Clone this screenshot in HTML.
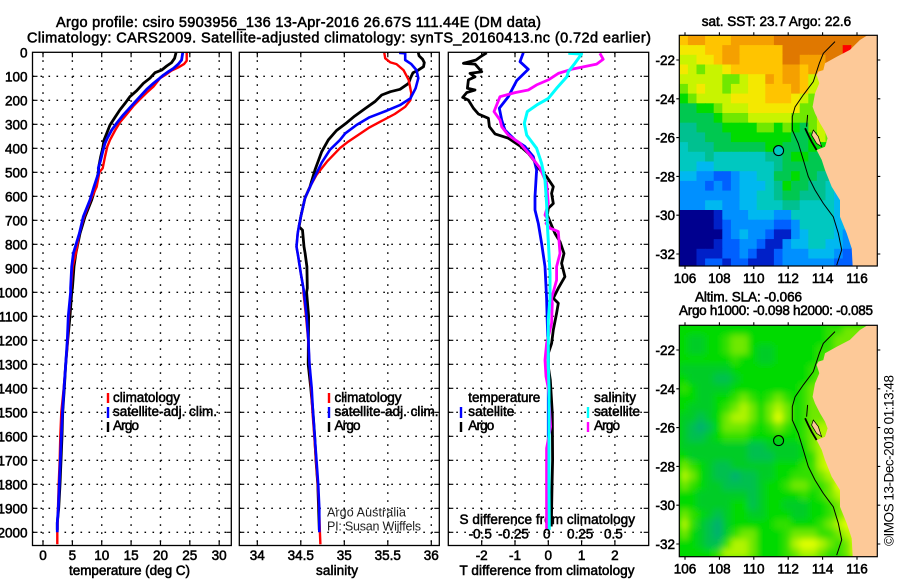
<!DOCTYPE html>
<html lang="en">
<head>
<meta charset="utf-8">
<title>Argo profile csiro 5903956_136</title>
<style>
html,body{margin:0;padding:0;background:#fff;width:900px;height:580px;overflow:hidden}
svg{display:block}
text{font-family:"Liberation Sans",sans-serif;fill:#000;stroke:#000;stroke-width:.55px;font-size:13.5px}
text.thin{stroke:none;font-size:12.5px;fill:#222}
text.title{font-size:14.5px}
</style>
</head>
<body>
<svg id="chart" width="900" height="580" viewBox="0 0 900 580" xmlns="http://www.w3.org/2000/svg">
<defs>
<clipPath id="clip-sst"><rect x="679.3" y="35.3" width="198" height="230.7"/></clipPath>
<clipPath id="clip-sla"><rect x="679.3" y="325.3" width="198" height="231.4"/></clipPath>
<filter id="soft" x="-5%" y="-5%" width="110%" height="110%"><feGaussianBlur stdDeviation="3.2"/></filter>
</defs>
<rect width="900" height="580" fill="#fff" style="stroke:none"/>
<text class="title" x="56" y="27" textLength="485" lengthAdjust="spacing">Argo profile: csiro 5903956_136 13-Apr-2016 26.67S 111.44E (DM data)</text>
<text class="title" x="27" y="42.5" textLength="624" lengthAdjust="spacing">Climatology: CARS2009. Satellite-adjusted climatology: synTS_20160413.nc (0.72d earlier)</text>

<text x="69" y="575" textLength="121" lengthAdjust="spacing">temperature (deg C)</text>
<text x="316" y="575" textLength="42" lengthAdjust="spacing">salinity</text>
<text x="459.5" y="575" textLength="175" lengthAdjust="spacing">T difference from climatology</text>
<text x="459.5" y="524" textLength="175.5" lengthAdjust="spacing">S difference from climatology</text>

<text x="113" y="402" textLength="67" lengthAdjust="spacing">climatology</text>
<text x="113" y="416" textLength="104" lengthAdjust="spacing">satellite-adj. clim.</text>
<text x="113" y="430" textLength="26" lengthAdjust="spacing">Argo</text>
<text x="334.5" y="402" textLength="67" lengthAdjust="spacing">climatology</text>
<text x="334.5" y="416" textLength="104" lengthAdjust="spacing">satellite-adj. clim.</text>
<text x="334.5" y="430" textLength="26" lengthAdjust="spacing">Argo</text>
<text class="thin" x="327" y="516.5" textLength="79" lengthAdjust="spacing">Argo Australia</text>
<text class="thin" x="327" y="530.5" textLength="94" lengthAdjust="spacing">PI: Susan Wijffels</text>

<text x="468.3" y="402" textLength="72" lengthAdjust="spacing">temperature</text>
<text x="468.3" y="416" textLength="46" lengthAdjust="spacing">satellite</text>
<text x="468.3" y="430" textLength="26" lengthAdjust="spacing">Argo</text>
<text x="594" y="402" textLength="42" lengthAdjust="spacing">salinity</text>
<text x="594" y="416" textLength="46" lengthAdjust="spacing">satellite</text>
<text x="594" y="430" textLength="26" lengthAdjust="spacing">Argo</text>

<text x="701.7" y="26" textLength="149.5" lengthAdjust="spacing">sat. SST: 23.7 Argo: 22.6</text>
<text x="695" y="301.3" textLength="107" lengthAdjust="spacing">Altim. SLA: -0.066</text>
<text x="679" y="315" textLength="194" lengthAdjust="spacing">Argo h1000: -0.098 h2000: -0.085</text>
<text class="thin" transform="translate(893.5,546) rotate(-90)" style="font-size:13.5px;fill:#000" textLength="171" lengthAdjust="spacing">©IMOS 13-Dec-2018 01:13:48</text>
</svg>
<script>
// ---------- axis tick data ----------
const depthTicks = [0,100,200,300,400,500,600,700,800,900,1000,1100,1200,1300,1400,1500,1600,1700,1800,1900,2000];
const tempTicks = [0,5,10,15,20,25,30];
const salTicks = ['34','34.5','35','35.5','36'];
const tDiffTicks = [-2,-1,0,1,2];
const sDiffTicks = ['-0.5','-0.25','0','0.25','0.5'];
const lonTicks = [106,108,110,112,114,116];
const latTicks = [-22,-24,-26,-28,-30,-32];

// ---------- temperature profiles ----------
const tempClimDepth = [2,35,49,63,76,95,108,143,168,196,224,258,292,326,365,393,435,483,500,560,615,685,754,837,893,983,1100,1200,1300,1400,1500,1600,1700,1800,1900,2000,2050];
const tempClimValue = [24.46,24.46,24.0,23.04,21.9,20.77,19.93,18.79,17.65,16.5,15.38,14.25,13.1,12.26,11.4,10.95,10.56,10.16,9.6,9.14,8.1,7.0,6.2,5.6,5.05,4.76,4.4,4.2,3.86,3.52,3.12,2.95,2.84,2.67,2.55,2.44,2.44];
const tempSatDepth = [2,32,49,67,81,95,113,129,154,192,231,261,296,324,358,379,414,449,483,500,560,615,685,754,837,893,983,1000,1100,1200,1300,1400,1500,1600,1700,1800,1900,1960,2000];
const tempSatValue = [23.78,23.6,23.04,22.2,21.34,20.5,19.64,18.79,17.65,16.23,14.8,13.68,12.54,11.69,10.95,10.56,10.16,9.82,9.42,9.48,8.68,8.0,6.86,6.2,5.17,4.88,4.7,4.7,4.3,4.14,3.86,3.57,3.3,3.12,2.95,2.78,2.6,2.44,2.44];
const tempArgoDepth = [2,25,43,57,74,85,108,129,160,185,213,240,271,303,338,365,400,435,476,500,560,615,685,754,837,893,983,1000,1100,1200,1300,1400,1500,1600,1700,1800,1900,1960,1990];
const tempArgoValue = [22.65,22.4,21.9,21.06,20.2,19.07,18.2,17.1,15.95,14.8,13.96,13.1,12.26,11.4,10.84,10.4,10.16,9.82,9.5,9.42,8.97,8.3,7.15,6.3,5.6,5.28,5.0,4.88,4.6,4.2,3.86,3.63,3.35,3.23,3.06,2.9,2.67,2.44,2.44];

// ---------- salinity profiles ----------
const salClimDepth = [2,25,42,49,74,115,171,199,227,257,282,313,349,372,399,456,511,560,607,685,720,754,810,851,921,983,1000,1100,1200,1300,1400,1500,1600,1700,1800,1900,2000,2050];
const salClimValue = [35.46,35.47,35.53,35.6,35.68,35.74,35.77,35.76,35.7,35.58,35.45,35.29,35.14,35.046,34.95,34.8,34.68,34.606,34.548,34.5,34.48,34.464,34.45,34.47,34.5,34.53,34.53,34.56,34.585,34.6,34.62,34.635,34.655,34.675,34.695,34.71,34.72,34.725];
const salSatDepth = [2,4,32,49,74,108,150,192,220,243,271,303,338,365,406,460,532,607,685,720,754,810,851,921,983,1000,1100,1200,1300,1400,1500,1600,1700,1800,1900,2000];
const salSatValue = [35.63,35.7,35.7,35.77,35.83,35.85,35.82,35.76,35.64,35.49,35.29,35.14,35.01,34.95,34.836,34.74,34.643,34.548,34.5,34.48,34.464,34.45,34.47,34.5,34.53,34.537,34.567,34.587,34.6,34.625,34.64,34.66,34.68,34.7,34.713,34.713];
const salArgoDepth = [2,15,29,43,60,74,85,108,129,154,164,178,206,234,266,293,326,365,414,490,560,607,685,727,741,810,837,893,983,1000,1100,1200,1300,1400,1500,1600,1700,1800,1900,1990];
const salArgoValue = [35.85,35.86,35.9,35.92,35.91,35.85,35.79,35.76,35.74,35.64,35.53,35.43,35.35,35.24,35.12,35.03,34.91,34.816,34.74,34.663,34.606,34.548,34.5,34.48,34.52,34.537,34.55,34.57,34.575,34.567,34.59,34.587,34.585,34.615,34.64,34.66,34.675,34.695,34.705,34.713];

// ---------- difference profiles ----------
const tDiffSatDepth = [2,39,71,118,185,233,282,324,365,393,435,490,601,657,713,796,893,1025,1130,1250,1400,1600,1800,1990];
const tDiffSatValue = [-0.75,-0.85,-0.6,-0.95,-1.2,-1.47,-1.4,-1.3,-1.0,-0.7,-0.45,-0.35,-0.4,-0.4,-0.3,-0.2,-0.1,-0.05,-0.03,0,0,0,0,0];
const tDiffArgoDepth = [2,15,32,46,49,81,88,102,115,150,157,168,188,199,233,257,275,310,340,358,390,421,456,490,518,560,588,630,650,678,706,755,789,838,879,935,983,1025,1046,1087,1157,1213,1254,1310,1365,1504,1698,1810,1976];
const tDiffArgoValue = [-1.85,-2.0,-2.17,-2.55,-2.2,-2.0,-2.35,-2.2,-2.4,-2.43,-2.2,-2.45,-2.57,-2.4,-2.25,-2.1,-1.8,-1.77,-1.6,-1.2,-0.85,-0.6,-0.4,-0.25,-0.05,0.15,0.1,0.15,0,-0.03,0.05,0.2,0.35,0.47,0.4,0.5,0.3,0.15,0.3,0.25,0.15,0.1,0,0,0.06,0.12,0.13,0.11,0.09];
const sDiffSatDepth = [4,7,46,81,102,150,192,220,247,296,345,400,463,532,630,713,810,921,1025,1115,1300,1400,1600,1800,1990];
const sDiffSatValue = [0.15,0.25,0.2,0.15,0.14,0.0625,0,-0.0875,-0.1575,-0.18,-0.1625,-0.0875,-0.05,-0.025,-0.0125,-0.0075,0.0025,0.0125,0.0125,0,0,0.005,0.005,0.005,0.0075];
const sDiffArgoDepth = [4,29,49,71,88,115,136,157,168,185,247,282,310,345,379,428,483,546,630,678,699,713,733,747,838,893,949,1025,1046,1129,1213,1282,1351,1400,1560,1650,1950,1990];
const sDiffArgoValue = [0.3875,0.4125,0.3625,0.175,0.075,0,-0.0875,-0.15,-0.25,-0.3625,-0.4075,-0.3625,-0.35,-0.3,-0.2125,-0.1375,-0.0625,-0.0125,0,-0.025,0,-0.0175,0.0125,0.075,0.0875,0.0625,0.0625,0.025,0.03,0.025,-0.0125,-0.025,-0.0175,0,0.017,-0.0125,-0.0125,-0.0125];

// ---------- SST map levels, 0.5 degree cells, north to south ----------
const sstLevels = [
[12,13,13,12,12,12,13,13,13,13,13,14,14,14,14,14,14,14,14,14,14,14,14],
[11,11,11,12,12,13,13,12,12,12,12,12,14,14,14,14,14,14,14,15,14,14,14],
[10,10,11,11,12,13,13,12,12,12,12,12,14,14,13,13,13,14,14,14,14,14,14],
[11,10,9,10,10,11,12,12,12,12,12,12,13,13,12,13,13,13,13,13,13,13,13],
[10,10,10,10,10,9,9,10,11,11,13,12,13,13,12,10,10,10,10,10,10,10,10],
[9,10,11,10,10,9,10,10,11,11,12,12,12,13,12,10,10,10,10,10],
[8,9,10,10,10,10,11,11,11,11,12,12,12,11,10,9,9,9,9,9],
[7,7,8,8,9,10,10,10,11,11,11,11,11,11,9,9,10,10,10,10],
[7,7,7,7,8,9,9,9,10,10,10,10,10,9,9,9,10,10,10,10],
[6,6,7,7,7,8,8,8,8,9,9,8,9,8,7,9,10,10,10,10],
[6,6,6,7,7,7,8,8,8,8,8,8,8,7,7,8,10,9,9,9],
[5,6,6,6,7,7,7,7,7,7,8,8,7,7,7,8,8,8,8,8],
[5,5,5,6,5,5,5,5,5,5,6,6,7,8,8,7,7,7,7,7],
[5,5,4,4,5,5,5,5,5,5,5,6,7,7,7,7,7,7,7,7],
[4,4,3,3,2,2,3,4,4,5,5,7,7,8,7,7,6,6,6,6],
[3,3,3,2,3,2,3,4,4,4,5,6,8,7,7,6,6,5,5,5],
[3,3,3,3,3,3,3,4,4,5,5,6,7,7,6,6,6,5,4,4,4],
[3,3,3,4,4,3,3,4,4,5,5,5,6,6,5,5,5,5,4,4,4],
[0,0,0,0,1,3,3,3,4,4,4,3,3,5,5,5,5,5,4,4,4],
[0,0,0,0,1,2,3,3,3,3,3,2,2,3,5,5,5,5,4,4,4],
[0,0,0,0,0,2,3,4,3,3,2,1,1,3,4,5,5,5,4,3,3],
[0,0,0,0,1,2,2,3,3,2,1,1,3,4,4,5,5,4,4,3,2],
[0,0,1,1,1,2,2,3,2,1,1,2,3,3,3,4,4,4,3,2,2],
[0,0,1,2,2,1,2,2,1,1,1,2,3,3,3,3,3,3,2,2,2]
];
const sstPalette = ['#00008f','#0020c8','#0060ff','#0090ff','#00b8f0','#00c8c0','#00c090','#00c850','#00dc00','#70e800','#c8f400','#f4e800','#ffc400','#f5a000','#e07800','#ff0000'];

// ---------- sea level anomaly map levels ----------
const slaLevels = [
[3,3,3,3,3,3,3,3,3,3,3,3,3,3,3,3,3,4,4,5,5,5,5],
[3,2,2,3,3,4,5,5,3,3,3,3,3,3,3,3,3,4,5,5,5,5,5],
[3,2,2,3,3,4,5,5,3,2,2,3,3,3,3,3,4,4,5,5,5,5,5],
[3,3,3,3,3,3,4,3,3,2,2,3,3,3,3,3,4,5,5,5,5,5,5],
[2,2,2,2,2,2,3,3,3,3,3,3,3,3,3,4,4,5,5,5],
[3,2,2,2,1,1,2,3,3,3,3,3,3,3,3,4,5,5,5,5],
[4,3,2,2,2,2,3,3,3,3,3,3,3,3,4,5,5,5,5,5],
[3,3,2,2,3,3,4,5,4,3,4,5,4,3,4,5,5,5,5,5],
[3,2,2,2,3,4,5,6,5,3,5,6,5,3,4,5,5,5,5,5],
[2,2,1,2,3,5,6,6,5,3,5,7,5,3,4,5,5,5,5,5],
[2,1,0,1,3,5,5,5,4,3,4,5,4,3,4,5,6,6,5,5],
[2,1,1,2,3,4,4,4,3,3,3,3,3,3,4,5,6,6,6,6],
[2,2,2,2,2,2,2,2,1,1,2,2,2,2,3,5,6,6,6,6],
[3,2,2,2,2,2,2,2,1,1,1,2,2,2,3,4,6,7,7,7],
[5,4,3,2,1,1,2,2,2,2,2,3,3,3,4,4,6,7,7,7],
[6,5,3,2,1,1,0,1,1,2,2,3,3,4,4,4,5,6,6,6],
[5,4,3,2,2,1,1,1,1,2,3,3,4,5,5,4,4,5,7,7,7],
[3,3,2,2,2,2,2,2,1,2,3,3,3,3,4,3,4,5,6,7,7],
[3,3,2,2,2,2,3,3,1,2,3,3,2,2,2,3,3,4,5,6,6],
[5,4,3,2,1,2,3,3,2,2,3,3,3,2,2,3,3,4,5,6,6],
[6,4,2,1,0,2,3,3,3,3,3,4,4,3,3,3,4,5,6,7,7],
[5,3,2,1,0,2,4,5,5,3,3,3,4,5,5,5,4,4,5,6,7],
[3,3,2,1,1,4,6,6,5,3,3,3,4,6,7,7,6,5,4,5,7],
[3,3,3,3,4,6,6,6,5,3,3,3,4,5,6,6,5,4,4,5,7]
];
const slaPalette = ['#00b070','#00c050','#00cc28','#00da00','#30e000','#70e800','#b0f400','#e0ff00'];

// ---------- geography ----------
const coastLon = [116.60,116.17,115.59,114.82,114.14,114.04,113.75,113.65,113.81,113.56,113.42,113.56,113.85,114.14,114.29,114.14,113.65,113.95,114.14,114.53,115.01,115.01,115.40,115.69,115.75];
const coastLat = [-20.73,-20.97,-21.48,-21.83,-22.17,-22.52,-22.60,-22.77,-23.20,-23.72,-24.41,-24.75,-25.26,-25.69,-26.04,-26.47,-26.64,-27.15,-27.67,-28.53,-29.22,-30.08,-30.93,-31.71,-32.65];
const isobathLon = [114.72,114.04,113.81,113.65,113.46,112.88,112.40,112.24,112.24,112.59,112.88,113.17,113.56,114.04,114.62,114.91,115.11,114.82];
const isobathLat = [-21.05,-21.66,-22.17,-22.60,-23.12,-23.80,-24.41,-24.92,-25.61,-26.30,-27.15,-28.01,-28.70,-29.39,-30.08,-30.93,-31.79,-32.57];
const islandLon = [112.98,113.17,113.36,113.65];
const islandLat = [-25.52,-25.87,-26.21,-26.64];
const spitLon = [113.13,113.07];
const spitLat = [-24.83,-25.44];
const bayLandLon = [113.46,113.75,113.94,113.65,113.36];
const bayLandLat = [-25.61,-25.95,-26.47,-26.30,-25.87];
const floatLon = [111.44];
const floatLat = [-26.67];

// ---------- scales ----------
const yDepth = d => 52.3 + 0.24 * d;
const xTemp = t => 43 + 5.873 * t;
const xSal = s => 257.3 + 87 * (s - 34);
const xTDiff = t => 548.3 + 33.3 * t;
const xSDiff = s => 548.3 + 133.2 * s;
const xLon = lon => 685 + 17.2 * (lon - 106);
const yLat = (lat, top) => top + 19.4 * (-22 - lat);

const svg = document.getElementById('chart');
const NS = 'http://www.w3.org/2000/svg';
function mk(tag, attrs) {
  const n = document.createElementNS(NS, tag);
  for (const k in attrs) n.setAttribute(k, attrs[k]);
  svg.appendChild(n);
  return n;
}
function pts(xs, ys) { return xs.map((x, i) => x.toFixed(1) + ',' + ys[i].toFixed(1)).join(' '); }

function drawPanel(name, left, right, xTickValues, xScale, xLabels) {
  const top = 52.3, bottom = 545.5;
  depthTicks.forEach(d => {
    if (d === 0) return;
    const g = mk('line', {x1:left,x2:right,y1:yDepth(d),y2:yDepth(d),stroke:'#000','stroke-width':1.4,'stroke-dasharray':'1.6 6.4'});
    
    
    const t1 = mk('path', {d:`M${left},${yDepth(d)}h5M${right},${yDepth(d)}h-5`,stroke:'#000','stroke-width':1.2,fill:'none'});
    
    
  });
  xTickValues.forEach((v, i) => {
    const x = xScale(Number(v));
    const g = mk('line', {x1:x,x2:x,y1:top,y2:bottom,stroke:'#000','stroke-width':1.4,'stroke-dasharray':'1.6 6.4'});
    
    
    const t1 = mk('path', {d:`M${x},${top}v5M${x},${bottom}v-5`,stroke:'#000','stroke-width':1.2,fill:'none'});
    
    
    if (xLabels) {
      const lab = mk('text', {x:x,y:560,'text-anchor':'middle'});
      lab.textContent = String(v);
      
      
    }
  });
}
function drawFrame(name, left, right) {
  const f = mk('rect', {x:left,y:52.3,width:right-left,height:493.2,fill:'none',stroke:'#000','stroke-width':1.3});
  
  
}
function drawSeries(name, depths, values, xScale, color, w) {
  const l = mk('polyline', {points:pts(values.map(xScale), depths.map(yDepth)),fill:'none',stroke:color,'stroke-width':w,'stroke-linejoin':'round'});
  
  
}
function legendTick(name, x, y1, y2, color) {
  const l = mk('line', {x1:x,x2:x,y1:y1,y2:y2,stroke:color,'stroke-width':2.4});
  
  
}

// panels
drawPanel('temperature-panel', 32.5, 231.3, tempTicks, xTemp, true);
drawSeries('temperature-argo-line', tempArgoDepth, tempArgoValue, xTemp, '#000', 2.8);
drawSeries('temperature-climatology-line', tempClimDepth, tempClimValue, xTemp, '#f00', 2.4);
drawSeries('temperature-satellite-line', tempSatDepth, tempSatValue, xTemp, '#00f', 2.8);
drawFrame('temperature-panel', 32.5, 231.3);

drawPanel('salinity-panel', 239.3, 439.3, salTicks, xSal, true);
drawSeries('salinity-argo-line', salArgoDepth, salArgoValue, xSal, '#000', 2.8);
drawSeries('salinity-climatology-line', salClimDepth, salClimValue, xSal, '#f00', 2.4);
drawSeries('salinity-satellite-line', salSatDepth, salSatValue, xSal, '#00f', 2.6);
drawFrame('salinity-panel', 239.3, 439.3);

drawPanel('difference-panel', 448.3, 648.7, tDiffTicks, xTDiff, true);
drawSeries('t-difference-satellite-line', tDiffSatDepth, tDiffSatValue, xTDiff, '#00f', 2.8);
drawSeries('t-difference-argo-line', tDiffArgoDepth, tDiffArgoValue, xTDiff, '#000', 2.8);
drawSeries('s-difference-argo-line', sDiffArgoDepth, sDiffArgoValue, xSDiff, '#f0f', 2.8);
drawSeries('s-difference-satellite-line', sDiffSatDepth, sDiffSatValue, xSDiff, '#0ff', 3);
drawFrame('difference-panel', 448.3, 648.7);

// depth labels
depthTicks.forEach(d => {
  const t = mk('text', {x:27.5,y:yDepth(d)+5,'text-anchor':'end'});
  t.textContent = String(d);
  
  
});
// S difference tick labels
sDiffTicks.forEach(v => {
  const t = mk('text', {x:xSDiff(Number(v)) - 1.5,y:538.7,'text-anchor':'middle'});
  t.textContent = v;
  
  
});
// legend swatches
legendTick('legend-climatology-swatch', 108, 393, 403, '#f00');
legendTick('legend-satellite-swatch', 108, 407, 418, '#00f');
legendTick('legend-argo-swatch', 108, 422, 432, '#000');
legendTick('salinity-legend-climatology-swatch', 329, 393, 403, '#f00');
legendTick('salinity-legend-satellite-swatch', 329, 407, 418, '#00f');
legendTick('salinity-legend-argo-swatch', 329, 422, 432, '#000');
legendTick('diff-legend-t-satellite-swatch', 461, 407, 418, '#00f');
legendTick('diff-legend-t-argo-swatch', 461, 422, 432, '#000');
legendTick('diff-legend-s-satellite-swatch', 588, 407, 418, '#0ff');
legendTick('diff-legend-s-argo-swatch', 588, 422, 432, '#f0f');

// maps
const lonStart = 105.67, latStart = -20.73, cell = 0.5;
function drawMap(name, top, boxTop, boxH, levels, palette, clipId, blur) {
  const holder = mk('g', {'clip-path':`url(#${clipId})`});
  
  
  const bg = document.createElementNS(NS, 'rect');
  bg.setAttribute('x', 679.3); bg.setAttribute('y', boxTop); bg.setAttribute('width', 198); bg.setAttribute('height', boxH);
  bg.setAttribute('fill', palette[blur ? 3 : 5]);
  
  
  holder.appendChild(bg);
  const cells = document.createElementNS(NS, 'g');
  if (blur) cells.setAttribute('filter', 'url(#soft)');
  
  
  holder.appendChild(cells);
  levels.forEach((row, j) => {
    row.forEach((lv, i) => {
      const x0 = xLon(lonStart + i * cell), x1 = xLon(lonStart + (i + 1) * cell);
      const y0 = yLat(latStart - j * cell, top), y1 = yLat(latStart - (j + 1) * cell, top);
      const r = document.createElementNS(NS, 'rect');
      r.setAttribute('x', x0.toFixed(1));
      r.setAttribute('y', y0.toFixed(1));
      r.setAttribute('width', (x1 - x0 + 0.6).toFixed(1));
      r.setAttribute('height', (y1 - y0 + 0.6).toFixed(1));
      r.setAttribute('fill', palette[lv]);
      
      
      cells.appendChild(r);
    });
  });
  const yy = lat => yLat(lat, top);
  const landX = coastLon.map(xLon).concat([xLon(117.6), xLon(117.6)]);
  const landY = coastLat.map(yy).concat([yy(-33), yy(-20.5)]);
  const land = document.createElementNS(NS, 'polygon');
  land.setAttribute('points', pts(landX, landY));
  land.setAttribute('fill', '#fdc998');
  
  
  holder.appendChild(land);
  const bay = document.createElementNS(NS, 'polygon');
  bay.setAttribute('points', pts(bayLandLon.map(xLon), bayLandLat.map(yy)));
  bay.setAttribute('fill', '#fdc998');
  bay.setAttribute('stroke', '#000');
  bay.setAttribute('stroke-width', '0.7');
  
  
  holder.appendChild(bay);
  const iso = document.createElementNS(NS, 'polyline');
  iso.setAttribute('points', pts(isobathLon.map(xLon), isobathLat.map(yy)));
  iso.setAttribute('fill', 'none');
  iso.setAttribute('stroke', '#000');
  iso.setAttribute('stroke-width', '1');
  
  
  holder.appendChild(iso);
  const isl = document.createElementNS(NS, 'polyline');
  isl.setAttribute('points', pts(islandLon.map(xLon), islandLat.map(yy)));
  isl.setAttribute('fill', 'none');
  isl.setAttribute('stroke', '#000');
  isl.setAttribute('stroke-width', '1.8');
  
  
  holder.appendChild(isl);
  const sp = document.createElementNS(NS, 'polyline');
  sp.setAttribute('points', pts(spitLon.map(xLon), spitLat.map(yy)));
  sp.setAttribute('fill', 'none');
  sp.setAttribute('stroke', '#000');
  sp.setAttribute('stroke-width', '1');
  
  
  holder.appendChild(sp);

  const marker = mk('circle', {cx:xLon(floatLon[0]),cy:yy(floatLat[0]),r:5,fill:blur?'none':palette[5],stroke:'#000','stroke-width':1.1});
  
  

  const f = mk('rect', {x:679.3,y:boxTop,width:198,height:boxH,fill:'none',stroke:'#000','stroke-width':1.2});
  
  

  lonTicks.forEach(lon => {
    const x = xLon(lon);
    const t = mk('path', {d:`M${x},${boxTop}v-3M${x},${boxTop+boxH}v3`,stroke:'#000','stroke-width':1.1,fill:'none'});
    
    
    const lab = mk('text', {x:x,y:boxTop+boxH+17,'text-anchor':'middle'});
    lab.textContent = String(lon);
    
    
  });
  latTicks.forEach(lat => {
    const y = yy(lat);
    const t = mk('path', {d:`M679.3,${y}h-3M877.3,${y}h3`,stroke:'#000','stroke-width':1.1,fill:'none'});
    
    
    const lab = mk('text', {x:675,y:y+5,'text-anchor':'end'});
    lab.textContent = String(lat);
    
    
  });
}
drawMap('sst', 60, 35.3, 230.7, sstLevels, sstPalette, 'clip-sst', false);
drawMap('sla', 350, 325.3, 231.4, slaLevels, slaPalette, 'clip-sla', true);
</script>
</body>
</html>
